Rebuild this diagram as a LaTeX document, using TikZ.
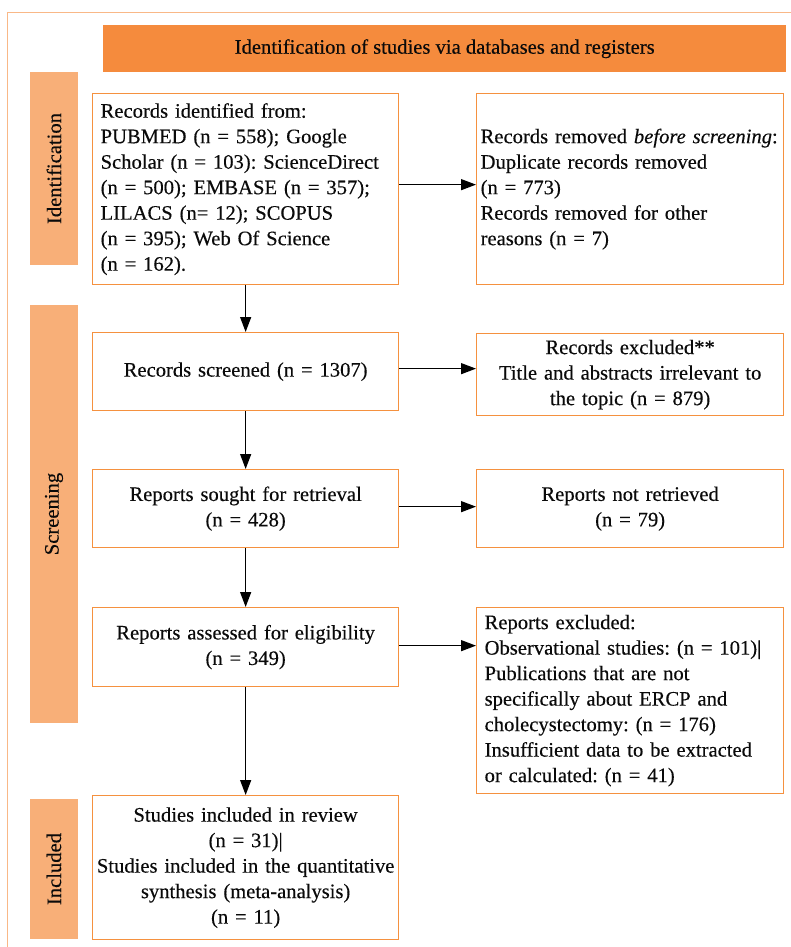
\documentclass[tikz,border=0pt]{standalone}
\usepackage{fontspec}
\setmainfont{Liberation Serif}[FakeBold=0.3]
\usetikzlibrary{arrows.meta,calc}
\definecolor{hdrc}{HTML}{F58B3D}
\definecolor{labc}{HTML}{F8AF78}
\definecolor{boxc}{HTML}{F5913F}
\definecolor{framec}{HTML}{F9B887}
\definecolor{txtc}{HTML}{0A0A0A}
\frenchspacing
\hyphenpenalty=10000
\exhyphenpenalty=10000
\hbadness=10000
\hfuzz=20pt
\begin{document}
\begin{tikzpicture}[x=1pt,y=-1pt,
  txt/.style={font=\fontsize{20.6}{25.5}\selectfont, text=txtc},
  box/.style={txt, draw=boxc, line width=1.3pt, fill=white, anchor=north west, inner ysep=2pt},
  lbox/.style={box, align=left, inner xsep=8pt},
  cbox/.style={box, align=center, inner xsep=4pt},
  lab/.style={txt, fill=labc, rotate=90, inner sep=0pt},
  arr/.style={-{Triangle[length=15pt,width=11pt]}, line width=1.3pt, black}]
\useasboundingbox (0,0) rectangle (791,947);
\fill[white] (0,0) rectangle (791,947);
% outer frame (cropped at right and bottom)
\draw[framec, line width=1.3pt] (7.5,960) -- (7.5,12.5) -- (800,12.5);

% header
\node[txt, fill=hdrc, anchor=north west, minimum width=683pt, minimum height=47pt, inner sep=0pt] (hdr) at (103,25) {Identification of studies via databases and registers};

% phase labels
\node[lab, minimum width=193pt, minimum height=48pt] (lid) at (54,168.5) {Identification};
\node[lab, minimum width=418pt, minimum height=48pt] (lsc) at (54,514) {Screening};
\node[lab, minimum width=140pt, minimum height=48pt] (lin) at (54,869) {Included};

% boxes
\node[lbox, minimum width=306pt, minimum height=191pt, text width=290pt] (A) at (92,93) {Records identified from:\\PUBMED (n = 558); Google\\Scholar (n = 103): ScienceDirect\\(n = 500); EMBASE (n = 357);\\LILACS (n= 12); SCOPUS\\(n = 395); Web Of Science\\(n = 162).};
\node[lbox, inner xsep=4pt, minimum width=307pt, minimum height=191pt, text width=299pt] (B) at (476,93) {\mbox{Records removed \textit{before screening}:}\\Duplicate records removed\\(n = 773)\\Records removed for other\\reasons (n = 7)};
\node[cbox, minimum width=306pt, minimum height=78pt, text width=298pt] (C) at (92,332) {Records screened (n = 1307)};
\node[cbox, minimum width=307pt, minimum height=82pt, text width=299pt] (D) at (476,333) {Records excluded**\\Title and abstracts irrelevant to\\the topic (n = 879)};
\node[cbox, minimum width=306pt, minimum height=78pt, text width=298pt] (E) at (92,469) {Reports sought for retrieval\\(n = 428)};
\node[cbox, minimum width=307pt, minimum height=78pt, text width=299pt] (F) at (476,469) {Reports not retrieved\\(n = 79)};
\node[cbox, minimum width=306pt, minimum height=79pt, text width=298pt] (G) at (92,607) {Reports assessed for eligibility\\(n = 349)};
\node[lbox, minimum width=307pt, minimum height=186pt, text width=291pt] (H) at (476,607) {Reports excluded:\\Observational studies: (n = 101)|\\Publications that are not\\specifically about ERCP and\\cholecystectomy: (n = 176)\\Insufficient data to be extracted\\or calculated: (n = 41)};
\node[cbox, minimum width=306pt, minimum height=144pt, text width=300pt, inner xsep=3pt] (I) at (92,795) {Studies included in review\\(n = 31)|\\Studies included in the quantitative\\synthesis (meta-analysis)\\(n = 11)};

% vertical arrows
\draw[arr] (A.south) -- (C.north);
\draw[arr] (C.south) -- (E.north);
\draw[arr] (E.south) -- (G.north);
\draw[arr] (G.south) -- (I.north);

% horizontal arrows
\coordinate (a1) at ([yshift=4.5pt]A.east);
\draw[arr] (a1) -- (a1 -| B.west);
\coordinate (c1) at ([yshift=3pt]C.east);
\draw[arr] (c1) -- (c1 -| D.west);
\coordinate (e1) at ([yshift=2pt]E.east);
\draw[arr] (e1) -- (e1 -| F.west);
\coordinate (g1) at ([yshift=1.5pt]G.east);
\draw[arr] (g1) -- (g1 -| H.west);
\end{tikzpicture}
\end{document}
